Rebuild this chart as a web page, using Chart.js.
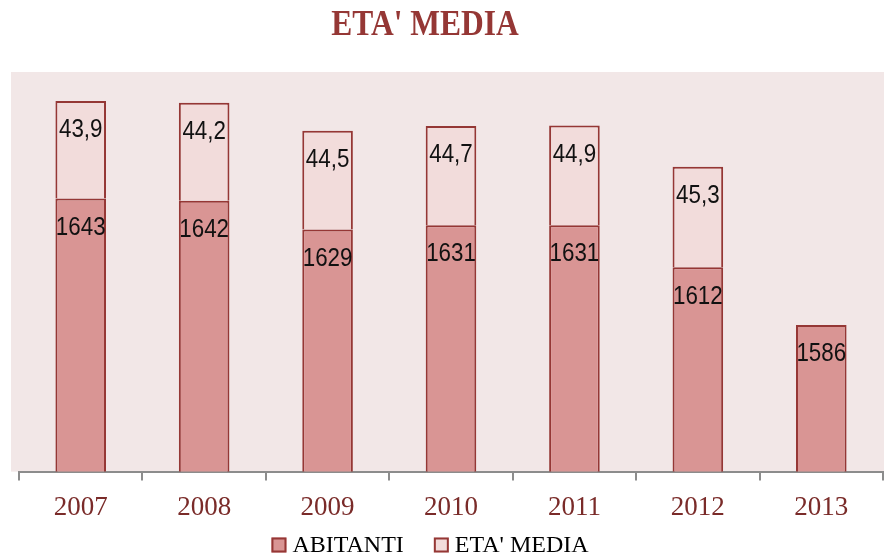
<!DOCTYPE html>
<html>
<head>
<meta charset="utf-8">
<script src="https://cdn.jsdelivr.net/npm/chart.js@4/dist/chart.umd.min.js"></script>
<style>
html,body{margin:0;padding:0;background:#fff;}
#wrap{width:884px;height:560px;position:relative;}
</style>
</head>
<body>
<div id="wrap"><canvas id="c" width="884" height="560"></canvas></div>
<script>
const years = ['2007','2008','2009','2010','2011','2012','2013'];
const abitanti = [1643,1642,1629,1631,1631,1612,1586];
const etaMedia = [43.9,44.2,44.5,44.7,44.9,45.3,null];
const seriesNames = ['ABITANTI',"ETA' MEDIA"];
const chartTitle = "ETA' MEDIA";

const plotBg = {
  id:'plotBg',
  beforeDraw(chart){
    const {ctx, chartArea:a} = chart;
    ctx.save();
    ctx.fillStyle = '#F2E7E7';
    ctx.fillRect(a.left-8, a.top, chart.width-(a.left-8), a.bottom-a.top);
    ctx.restore();
  }
};

const barLabels = {
  id:'barLabels',
  afterDatasetsDraw(chart){
    const ctx = chart.ctx;
    chart.data.datasets.forEach((ds, di) => {
      const meta = chart.getDatasetMeta(di);
      meta.data.forEach((bar, i) => {
        const v = ds.data[i];
        if (v === null || v === undefined) return;
        const txt = di === 1 ? v.toFixed(1).replace('.', ',') : String(v);
        ctx.save();
        ctx.font = '26px "Liberation Sans", "DejaVu Sans", sans-serif';
        ctx.fillStyle = '#111';
        ctx.textAlign = 'center';
        ctx.textBaseline = 'middle';
        ctx.translate(bar.x, bar.y + 29);
        ctx.scale(0.86, 1);
        ctx.fillText(txt, 0, 0);
        ctx.restore();
      });
    });
  }
};

const titleAndLegend = {
  id:'titleAndLegend',
  afterDraw(chart){
    const ctx = chart.ctx;
    // title
    ctx.save();
    ctx.font = 'bold 35px "Liberation Serif", serif';
    ctx.fillStyle = '#953735';
    ctx.textAlign = 'center';
    ctx.textBaseline = 'alphabetic';
    ctx.translate(425, 35);
    ctx.scale(0.9, 1);
    ctx.fillText(chartTitle, 0, 0);
    ctx.restore();
    // legend
    ctx.save();
    ctx.font = '24px "Liberation Serif", serif';
    const box = 15, gapText = 6, gapItem = 30;
    const widths = chart.data.datasets.map(d => ctx.measureText(d.label).width);
    let total = 0;
    widths.forEach((w, i) => { total += box + gapText + w + (i ? gapItem : 0); });
    let x = 430 - total / 2;
    const cy = 545;
    chart.data.datasets.forEach((d, i) => {
      if (i) x += gapItem;
      ctx.fillStyle = d.backgroundColor;
      ctx.fillRect(x, cy - box / 2, box, box);
      ctx.lineWidth = 2;
      ctx.strokeStyle = d.borderColor;
      ctx.strokeRect(x + 1, cy - box / 2 + 1, box - 2, box - 2);
      ctx.fillStyle = '#000';
      ctx.textAlign = 'left';
      ctx.textBaseline = 'middle';
      ctx.fillText(d.label, x + box + gapText, cy + 1);
      x += box + gapText + widths[i];
    });
    ctx.restore();
  }
};

new Chart(document.getElementById('c'), {
  type:'bar',
  data:{
    labels: years,
    datasets:[
      {label: seriesNames[0], data: abitanti, backgroundColor:'#D99594', borderColor:'#953735', borderWidth:2, borderSkipped:false},
      {label: seriesNames[1], data: etaMedia, backgroundColor:'#F2DCDB', borderColor:'#953735', borderWidth:2, borderSkipped:'bottom'}
    ]
  },
  options:{
    responsive:false,
    animation:false,
    layout:{padding:{left:19, right:1, top:72, bottom:25}},
    datasets:{bar:{barPercentage:0.41, categoryPercentage:1}},
    scales:{
      x:{
        stacked:true,
        grid:{drawOnChartArea:false, tickLength:9, color:'#8c8c8c', lineWidth:2, offset:true},
        border:{color:'#8c8c8c', width:2},
        ticks:{color:'#7A2B29', font:{family:'"Liberation Serif", serif', size:27}, padding:11}
      },
      y:{
        stacked:true, display:false, min:1520, max:1700
      }
    },
    plugins:{
      title:{display:false},
      legend:{display:false},
      tooltip:{enabled:false}
    }
  },
  plugins:[plotBg, barLabels, titleAndLegend]
});
</script>
</body>
</html>
